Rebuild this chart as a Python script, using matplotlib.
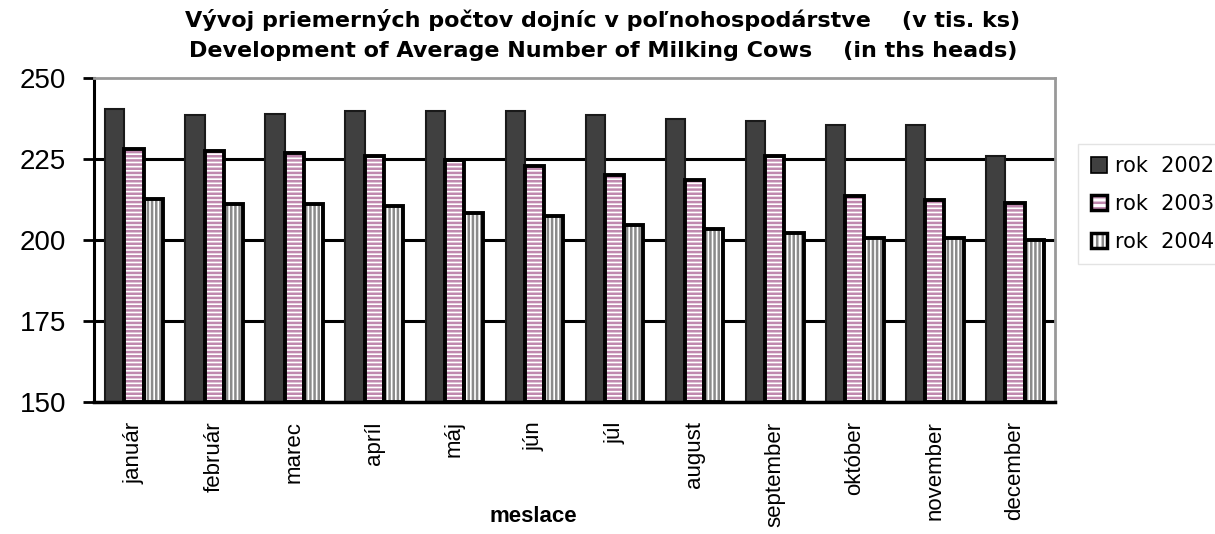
import numpy as np
import matplotlib
matplotlib.use("Agg")
import matplotlib.pyplot as plt
from matplotlib.patches import Patch
from matplotlib.legend_handler import HandlerTuple

plt.rcParams["font.family"] = ["Liberation Sans", "DejaVu Sans"]
plt.rcParams["hatch.linewidth"] = 1.8

months = ["január", "február", "marec", "apríl", "máj", "jún", "júl",
          "august", "september", "október", "november", "december"]
rok2002 = [240.5, 238.7, 239.0, 239.8, 239.8, 239.8, 238.7, 237.3, 236.8, 235.4, 235.4, 225.9]
rok2003 = [228.1, 227.5, 226.9, 225.8, 224.8, 222.8, 220.0, 218.4, 225.9, 213.6, 212.4, 211.5]
rok2004 = [212.6, 211.0, 211.0, 210.4, 208.3, 207.3, 204.6, 203.4, 202.3, 200.7, 200.7, 200.1]

pink = "#bf88ae"
grey = "#8a8a8a"

fig = plt.figure(figsize=(12.15, 5.34), dpi=100)
ax = fig.add_axes([94 / 1215, 1 - 402 / 534, 961 / 1215, 324 / 534])

x = np.arange(len(months))
w = 0.24
base = 150

# grid lines behind bars
for yv in [175, 200, 225]:
    ax.axhline(yv, color="black", lw=2.2, zorder=1)

b1 = np.array(rok2002) - base
b2 = np.array(rok2003) - base
b3 = np.array(rok2004) - base

ax.bar(x - w, b1, w, bottom=base, color="#404040", edgecolor="#1a1a1a", lw=1.5, zorder=2)
# 2003: pink horizontal stripes, then black outline on top
ax.bar(x, b2, w, bottom=base, color="white", edgecolor=pink, hatch="----", lw=0, zorder=2)
ax.bar(x, b2, w, bottom=base, fill=False, edgecolor="black", lw=2.8, zorder=3)
# 2004: grey vertical stripes
ax.bar(x + w, b3, w, bottom=base, color="white", edgecolor=grey, hatch="||||", lw=0, zorder=2)
ax.bar(x + w, b3, w, bottom=base, fill=False, edgecolor="black", lw=2.8, zorder=3)

ax.set_xlim(-0.5, len(months) - 0.5)
ax.set_ylim(150, 250)
ax.set_yticks([150, 175, 200, 225, 250])
ax.tick_params(axis="y", labelsize=20, length=8, width=2, direction="out", pad=12)
ax.set_xticks(x)
ax.set_xticklabels(months, rotation=90, fontsize=16)
ax.tick_params(axis="x", length=0, pad=14)

ax.spines["left"].set_color("black")
ax.spines["left"].set_linewidth(2.2)
ax.spines["bottom"].set_color("black")
ax.spines["bottom"].set_linewidth(2.5)
ax.spines["top"].set_color("#999999")
ax.spines["top"].set_linewidth(2)
ax.spines["right"].set_color("#999999")
ax.spines["right"].set_linewidth(2)

fig.text(533 / 1215, 1 - 517 / 534, "meslace", ha="center", va="center",
         fontsize=16, fontweight="bold")

fig.text(603 / 1215, 1 - 20 / 534, "Vývoj priemerných počtov dojníc v poľnohospodárstve    (v tis. ks)",
         ha="center", va="center", fontsize=16, fontweight="bold", family="DejaVu Sans")
fig.text(603 / 1215, 1 - 51 / 534, "Development of Average Number of Milking Cows    (in ths heads)",
         ha="center", va="center", fontsize=16, fontweight="bold", family="DejaVu Sans")

h2002 = Patch(facecolor="#404040", edgecolor="black", lw=1.2)
h2003 = (Patch(facecolor="white", edgecolor=pink, hatch="---", lw=0),
         Patch(fill=False, edgecolor="black", lw=2.5))
h2004 = (Patch(facecolor="white", edgecolor=grey, hatch="|||", lw=0),
         Patch(fill=False, edgecolor="black", lw=2.5))
leg = fig.legend([h2002, h2003, h2004], ["rok  2002", "rok  2003", "rok  2004"],
                 handler_map={tuple: HandlerTuple(ndivide=1, pad=0)},
                 loc="center left", bbox_to_anchor=(1068 / 1215, 1 - 204 / 534),
                 frameon=True, prop={"family": "DejaVu Sans", "size": 15},
                 handlelength=0.75, handleheight=0.75, handletextpad=0.4,
                 labelspacing=0.85, borderpad=0.6, fancybox=False)
leg.get_frame().set_edgecolor("#dddddd")

fig.savefig("out.png", dpi=100)
